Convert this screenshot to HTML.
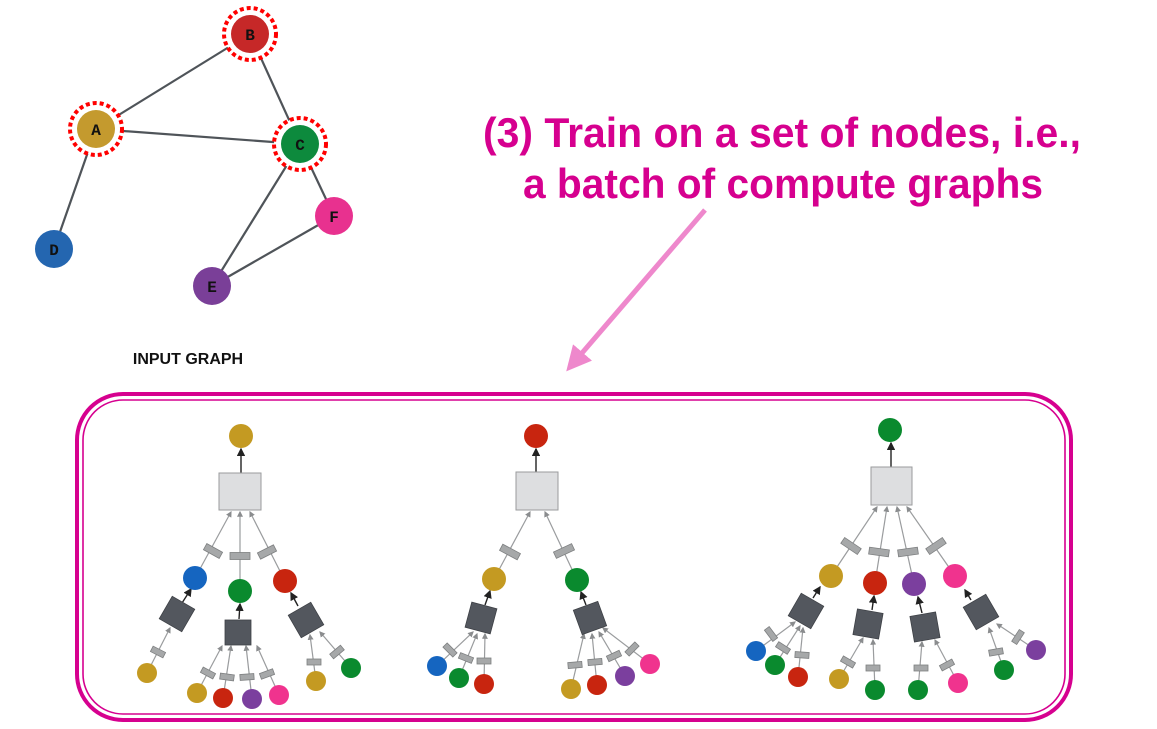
<!DOCTYPE html>
<html><head><meta charset="utf-8"><style>
html,body{margin:0;padding:0;background:#fff;width:1157px;height:729px;overflow:hidden}
svg{display:block}
.e{stroke:#4f5459;stroke-width:2.2;fill:none}
.g{stroke:#9a9c9e;stroke-width:1.2}
.k{stroke:#222;stroke-width:1.4}
.sr{fill:#a6a8a9;stroke:#7d7f80;stroke-width:0.8}
.ds{fill:#53575e;stroke:#3e4146;stroke-width:0.8}
.ls{fill:#dddee0;stroke:#9a9b9d;stroke-width:1}
.lbl{font-family:"Liberation Mono",monospace;font-weight:bold;font-size:16px;fill:#111;text-anchor:middle}
</style></head><body>
<svg width="1157" height="729" viewBox="0 0 1157 729" xmlns="http://www.w3.org/2000/svg">
<defs>
<marker id="ak" markerWidth="6" markerHeight="6" refX="5" refY="3" orient="auto"><path d="M0,0L6,3L0,6z" fill="#222"/></marker>
<marker id="ag" markerWidth="5" markerHeight="5" refX="4" refY="2.5" orient="auto"><path d="M0,0L5,2.5L0,5z" fill="#8a8c8e"/></marker>
<marker id="ap" markerWidth="5" markerHeight="5" refX="2" refY="2.5" orient="auto"><path d="M0,0L5,2.5L0,5z" fill="#ee88cc"/></marker>
</defs>

<!-- input graph -->
<line class="e" x1="250" y1="34" x2="96" y2="129"/>
<line class="e" x1="250" y1="34" x2="300" y2="144"/>
<line class="e" x1="96" y1="129" x2="300" y2="144"/>
<line class="e" x1="96" y1="129" x2="54" y2="249"/>
<line class="e" x1="300" y1="144" x2="212" y2="286"/>
<line class="e" x1="300" y1="144" x2="334" y2="216"/>
<line class="e" x1="334" y1="216" x2="212" y2="286"/>
<circle cx="250" cy="34" r="26" fill="#fff" stroke="#f00" stroke-width="4" stroke-dasharray="4 3"/>
<circle cx="96" cy="129" r="26" fill="#fff" stroke="#f00" stroke-width="4" stroke-dasharray="4 3"/>
<circle cx="300" cy="144" r="26" fill="#fff" stroke="#f00" stroke-width="4" stroke-dasharray="4 3"/>
<circle cx="250" cy="34" r="19" fill="#c62828"/>
<circle cx="96" cy="129" r="19" fill="#c49a2e"/>
<circle cx="300" cy="144" r="19" fill="#0d8a3d"/>
<circle cx="54" cy="249" r="19" fill="#2466b0"/>
<circle cx="334" cy="216" r="19" fill="#e8318f"/>
<circle cx="212" cy="286" r="19" fill="#7a3f98"/>
<text class="lbl" x="250" y="40">B</text>
<text class="lbl" x="96" y="135">A</text>
<text class="lbl" x="300" y="150">C</text>
<text class="lbl" x="54" y="255">D</text>
<text class="lbl" x="334" y="222">F</text>
<text class="lbl" x="212" y="292">E</text>
<text x="188" y="364" font-family="Liberation Sans,sans-serif" font-weight="bold" font-size="16" text-anchor="middle" fill="#111">INPUT GRAPH</text>

<!-- title -->
<text x="483" y="147" textLength="598" lengthAdjust="spacingAndGlyphs" font-family="Liberation Sans,sans-serif" font-weight="bold" font-size="42" fill="#d6008f">(3) Train on a set of nodes, i.e.,</text>
<text x="523" y="198" textLength="520" lengthAdjust="spacingAndGlyphs" font-family="Liberation Sans,sans-serif" font-weight="bold" font-size="42" fill="#d6008f">a batch of compute graphs</text>
<line x1="705" y1="210" x2="576" y2="360" stroke="#ee88cc" stroke-width="5" marker-end="url(#ap)"/>

<!-- box -->
<rect x="77" y="394" width="994" height="326" rx="46" fill="none" stroke="#d6008f" stroke-width="4"/>
<rect x="83" y="400" width="982" height="314" rx="40" fill="none" stroke="#d6008f" stroke-width="1.6"/>

<!-- Tree 1 -->
<g>
<line class="k" x1="241" y1="473" x2="241" y2="449" marker-end="url(#ak)"/>
<line class="g" x1="195" y1="578" x2="231" y2="512" marker-end="url(#ag)"/>
<line class="g" x1="240" y1="591" x2="240" y2="512" marker-end="url(#ag)"/>
<line class="g" x1="285" y1="581" x2="250" y2="512" marker-end="url(#ag)"/>
<rect class="ls" x="219" y="473" width="42" height="37"/>
<g transform="translate(213,551) rotate(29)"><rect class="sr" x="-9" y="-3.5" width="18" height="7"/></g>
<g transform="translate(240,556)"><rect class="sr" x="-10" y="-3.5" width="20" height="7"/></g>
<g transform="translate(267,552) rotate(-27)"><rect class="sr" x="-9" y="-3.5" width="18" height="7"/></g>
<!-- subtrees -->
<line class="k" x1="182" y1="603" x2="191" y2="589" marker-end="url(#ak)"/>
<line class="k" x1="239" y1="619" x2="240" y2="604" marker-end="url(#ak)"/>
<line class="k" x1="298" y1="606" x2="291" y2="593" marker-end="url(#ak)"/>
<line class="g" x1="147" y1="673" x2="170" y2="628" marker-end="url(#ag)"/>
<line class="g" x1="197" y1="693" x2="222" y2="646" marker-end="url(#ag)"/>
<line class="g" x1="223" y1="698" x2="231" y2="646" marker-end="url(#ag)"/>
<line class="g" x1="252" y1="699" x2="246" y2="646" marker-end="url(#ag)"/>
<line class="g" x1="279" y1="695" x2="257" y2="646" marker-end="url(#ag)"/>
<line class="g" x1="316" y1="681" x2="310" y2="635" marker-end="url(#ag)"/>
<line class="g" x1="351" y1="668" x2="320" y2="632" marker-end="url(#ag)"/>
<g transform="translate(177,614) rotate(30)"><rect class="ds" x="-13" y="-13" width="26" height="26"/></g>
<rect class="ds" x="225" y="620" width="26" height="25"/>
<g transform="translate(306,620) rotate(-30)"><rect class="ds" x="-13" y="-13" width="26" height="26"/></g>
<g transform="translate(158,652) rotate(27)"><rect class="sr" x="-7" y="-3" width="14" height="6"/></g>
<g transform="translate(208,673) rotate(28)"><rect class="sr" x="-7" y="-3" width="14" height="6"/></g>
<g transform="translate(227,677) rotate(8)"><rect class="sr" x="-7" y="-3" width="14" height="6"/></g>
<g transform="translate(247,677) rotate(-4)"><rect class="sr" x="-7" y="-3" width="14" height="6"/></g>
<g transform="translate(267,674) rotate(-20)"><rect class="sr" x="-7" y="-3" width="14" height="6"/></g>
<g transform="translate(314,662)"><rect class="sr" x="-7" y="-3" width="14" height="6"/></g>
<g transform="translate(337,652) rotate(-40)"><rect class="sr" x="-7" y="-3" width="14" height="6"/></g>
<circle cx="241" cy="436" r="12" fill="#c49a22"/>
<circle cx="195" cy="578" r="12" fill="#1565c0"/>
<circle cx="240" cy="591" r="12" fill="#0a8a2e"/>
<circle cx="285" cy="581" r="12" fill="#c8250f"/>
<circle cx="147" cy="673" r="10" fill="#c49a22"/>
<circle cx="197" cy="693" r="10" fill="#c49a22"/>
<circle cx="223" cy="698" r="10" fill="#c8250f"/>
<circle cx="252" cy="699" r="10" fill="#7b3f9e"/>
<circle cx="279" cy="695" r="10" fill="#f0338e"/>
<circle cx="316" cy="681" r="10" fill="#c49a22"/>
<circle cx="351" cy="668" r="10" fill="#0a8a2e"/>
</g>

<!-- Tree 2 -->
<g>
<line class="k" x1="536" y1="472" x2="536" y2="449" marker-end="url(#ak)"/>
<line class="g" x1="494" y1="579" x2="530" y2="512" marker-end="url(#ag)"/>
<line class="g" x1="577" y1="580" x2="545" y2="512" marker-end="url(#ag)"/>
<rect class="ls" x="516" y="472" width="42" height="38"/>
<g transform="translate(510,552) rotate(28)"><rect class="sr" x="-10" y="-3.5" width="20" height="7"/></g>
<g transform="translate(564,551) rotate(-25)"><rect class="sr" x="-10" y="-3.5" width="20" height="7"/></g>
<line class="k" x1="485" y1="605" x2="490" y2="591" marker-end="url(#ak)"/>
<line class="k" x1="586" y1="605" x2="581" y2="592" marker-end="url(#ak)"/>
<line class="g" x1="437" y1="666" x2="473" y2="632" marker-end="url(#ag)"/>
<line class="g" x1="459" y1="678" x2="477" y2="634" marker-end="url(#ag)"/>
<line class="g" x1="484" y1="684" x2="485" y2="634" marker-end="url(#ag)"/>
<line class="g" x1="571" y1="689" x2="584" y2="634" marker-end="url(#ag)"/>
<line class="g" x1="597" y1="685" x2="592" y2="634" marker-end="url(#ag)"/>
<line class="g" x1="625" y1="676" x2="599" y2="632" marker-end="url(#ag)"/>
<line class="g" x1="650" y1="664" x2="603" y2="628" marker-end="url(#ag)"/>
<g transform="translate(481,618) rotate(15)"><rect class="ds" x="-13" y="-13" width="26" height="26"/></g>
<g transform="translate(590,618) rotate(-20)"><rect class="ds" x="-13" y="-13" width="26" height="26"/></g>
<g transform="translate(450,650) rotate(45)"><rect class="sr" x="-7" y="-3" width="14" height="6"/></g>
<g transform="translate(466,658) rotate(22)"><rect class="sr" x="-7" y="-3" width="14" height="6"/></g>
<g transform="translate(484,661)"><rect class="sr" x="-7" y="-3" width="14" height="6"/></g>
<g transform="translate(575,665) rotate(-5)"><rect class="sr" x="-7" y="-3" width="14" height="6"/></g>
<g transform="translate(595,662) rotate(-5)"><rect class="sr" x="-7" y="-3" width="14" height="6"/></g>
<g transform="translate(614,656) rotate(-25)"><rect class="sr" x="-7" y="-3" width="14" height="6"/></g>
<g transform="translate(632,649) rotate(-45)"><rect class="sr" x="-7" y="-3" width="14" height="6"/></g>
<circle cx="536" cy="436" r="12" fill="#c8250f"/>
<circle cx="494" cy="579" r="12" fill="#c49a22"/>
<circle cx="577" cy="580" r="12" fill="#0a8a2e"/>
<circle cx="437" cy="666" r="10" fill="#1565c0"/>
<circle cx="459" cy="678" r="10" fill="#0a8a2e"/>
<circle cx="484" cy="684" r="10" fill="#c8250f"/>
<circle cx="571" cy="689" r="10" fill="#c49a22"/>
<circle cx="597" cy="685" r="10" fill="#c8250f"/>
<circle cx="625" cy="676" r="10" fill="#7b3f9e"/>
<circle cx="650" cy="664" r="10" fill="#f0338e"/>
</g>

<!-- Tree 3 -->
<g>
<line class="k" x1="891" y1="467" x2="891" y2="443" marker-end="url(#ak)"/>
<line class="g" x1="831" y1="576" x2="877" y2="507" marker-end="url(#ag)"/>
<line class="g" x1="875" y1="583" x2="887" y2="507" marker-end="url(#ag)"/>
<line class="g" x1="914" y1="584" x2="897" y2="507" marker-end="url(#ag)"/>
<line class="g" x1="955" y1="576" x2="907" y2="507" marker-end="url(#ag)"/>
<rect class="ls" x="871" y="467" width="41" height="38"/>
<g transform="translate(851,546) rotate(34)"><rect class="sr" x="-10" y="-3.5" width="20" height="7"/></g>
<g transform="translate(879,552) rotate(8)"><rect class="sr" x="-10" y="-3.5" width="20" height="7"/></g>
<g transform="translate(908,552) rotate(-8)"><rect class="sr" x="-10" y="-3.5" width="20" height="7"/></g>
<g transform="translate(936,546) rotate(-34)"><rect class="sr" x="-10" y="-3.5" width="20" height="7"/></g>
<line class="k" x1="813" y1="598" x2="820" y2="587" marker-end="url(#ak)"/>
<line class="k" x1="872" y1="610" x2="874" y2="596" marker-end="url(#ak)"/>
<line class="k" x1="922" y1="613" x2="918" y2="597" marker-end="url(#ak)"/>
<line class="k" x1="971" y1="600" x2="965" y2="590" marker-end="url(#ak)"/>
<line class="g" x1="756" y1="651" x2="795" y2="622" marker-end="url(#ag)"/>
<line class="g" x1="775" y1="665" x2="800" y2="626" marker-end="url(#ag)"/>
<line class="g" x1="798" y1="677" x2="803" y2="628" marker-end="url(#ag)"/>
<line class="g" x1="839" y1="679" x2="863" y2="638" marker-end="url(#ag)"/>
<line class="g" x1="875" y1="690" x2="873" y2="640" marker-end="url(#ag)"/>
<line class="g" x1="918" y1="690" x2="922" y2="642" marker-end="url(#ag)"/>
<line class="g" x1="958" y1="683" x2="935" y2="640" marker-end="url(#ag)"/>
<line class="g" x1="1004" y1="670" x2="989" y2="628" marker-end="url(#ag)"/>
<line class="g" x1="1036" y1="650" x2="997" y2="624" marker-end="url(#ag)"/>
<g transform="translate(806,611) rotate(30)"><rect class="ds" x="-13" y="-13" width="26" height="26"/></g>
<g transform="translate(868,624) rotate(10)"><rect class="ds" x="-13" y="-13" width="26" height="26"/></g>
<g transform="translate(925,627) rotate(-10)"><rect class="ds" x="-13" y="-13" width="26" height="26"/></g>
<g transform="translate(981,612) rotate(-30)"><rect class="ds" x="-13" y="-13" width="26" height="26"/></g>
<g transform="translate(771,634) rotate(53)"><rect class="sr" x="-7" y="-3" width="14" height="6"/></g>
<g transform="translate(783,648) rotate(33)"><rect class="sr" x="-7" y="-3" width="14" height="6"/></g>
<g transform="translate(802,655) rotate(4)"><rect class="sr" x="-7" y="-3" width="14" height="6"/></g>
<g transform="translate(848,662) rotate(30)"><rect class="sr" x="-7" y="-3" width="14" height="6"/></g>
<g transform="translate(873,668)"><rect class="sr" x="-7" y="-3" width="14" height="6"/></g>
<g transform="translate(921,668)"><rect class="sr" x="-7" y="-3" width="14" height="6"/></g>
<g transform="translate(947,665) rotate(-28)"><rect class="sr" x="-7" y="-3" width="14" height="6"/></g>
<g transform="translate(996,652) rotate(-10)"><rect class="sr" x="-7" y="-3" width="14" height="6"/></g>
<g transform="translate(1018,637) rotate(-57)"><rect class="sr" x="-7" y="-3" width="14" height="6"/></g>
<circle cx="890" cy="430" r="12" fill="#0a8a2e"/>
<circle cx="831" cy="576" r="12" fill="#c49a22"/>
<circle cx="875" cy="583" r="12" fill="#c8250f"/>
<circle cx="914" cy="584" r="12" fill="#7b3f9e"/>
<circle cx="955" cy="576" r="12" fill="#f0338e"/>
<circle cx="756" cy="651" r="10" fill="#1565c0"/>
<circle cx="775" cy="665" r="10" fill="#0a8a2e"/>
<circle cx="798" cy="677" r="10" fill="#c8250f"/>
<circle cx="839" cy="679" r="10" fill="#c49a22"/>
<circle cx="875" cy="690" r="10" fill="#0a8a2e"/>
<circle cx="918" cy="690" r="10" fill="#0a8a2e"/>
<circle cx="958" cy="683" r="10" fill="#f0338e"/>
<circle cx="1004" cy="670" r="10" fill="#0a8a2e"/>
<circle cx="1036" cy="650" r="10" fill="#7b3f9e"/>
</g>
</svg>
</body></html>
